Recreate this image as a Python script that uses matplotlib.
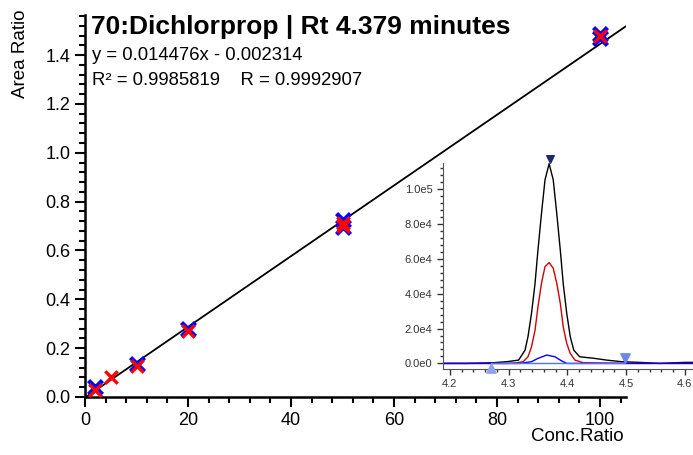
import matplotlib.pyplot as plt
import numpy as np
from matplotlib.ticker import MultipleLocator, FormatStrFormatter, FuncFormatter

plt.rcParams['font.family'] = ['Liberation Sans', 'DejaVu Sans']

# calibration points (conc ratio vs area ratio)
conc_blue = [2, 10, 20, 50, 50, 100, 100]
area_blue = [0.040, 0.135, 0.280, 0.725, 0.695, 1.485, 1.470]
conc_red = [2, 5, 10, 20, 50, 50, 100]
area_red = [0.028, 0.080, 0.128, 0.272, 0.712, 0.700, 1.478]
slope = 0.014476
intercept = -0.002314

# chromatogram traces (time in minutes, intensity)
t_black = [4.19, 4.23, 4.274, 4.297, 4.317, 4.328, 4.333, 4.339, 4.345, 4.350, 4.356,
           4.362, 4.369, 4.376, 4.382, 4.388, 4.393, 4.399, 4.405, 4.411, 4.421,
           4.444, 4.467, 4.492, 4.523, 4.557, 4.6, 4.62]
i_black = [0, 0, 400, 1000, 1900, 7600, 15300, 28700, 45800, 65100, 86000,
           105300, 114500, 105300, 86000, 65100, 45800, 28700, 15300, 7600, 3800,
           3000, 1900, 1000, 600, 0, 600, 600]
t_red = [4.19, 4.30, 4.313, 4.325, 4.333, 4.339, 4.345, 4.350, 4.356, 4.362, 4.369,
         4.376, 4.382, 4.388, 4.393, 4.399, 4.405, 4.413, 4.427, 4.5, 4.62]
i_red = [0, 0, 300, 1000, 3800, 9500, 19100, 32500, 46000, 55500, 57800,
         54600, 46000, 34500, 21000, 11500, 5700, 1900, 400, 0, 0]
t_blue = [4.19, 4.32, 4.339, 4.350, 4.365, 4.379, 4.390, 4.399, 4.62]
i_blue = [0, 0, 1000, 2900, 4800, 3800, 1500, 0, 0]

# peak markers
apex = (4.37, 117500)
start_mark = (4.27, -2900)
end_mark = (4.498, 2900)

fig = plt.figure(figsize=(6.93, 4.55), dpi=100)
ax = fig.add_axes([0.1227, 0.1275, 0.7803, 0.84])

x_line = np.array([0, 105])
ax.plot(x_line, slope * x_line + intercept, color='black', lw=1.3, zorder=2)
ax.scatter(conc_blue, area_blue, marker='x', s=100, color='blue', linewidths=3.2, zorder=3)
ax.scatter(conc_red, area_red, marker='x', s=80, color='red', linewidths=2.4, zorder=4)

ax.set_xlim(0, 105)
ax.set_ylim(0, 1.565)
ax.spines['top'].set_visible(False)
ax.spines['right'].set_visible(False)
ax.spines['left'].set_linewidth(1.8)
ax.spines['bottom'].set_linewidth(1.8)
ax.xaxis.set_major_locator(MultipleLocator(20))
ax.xaxis.set_minor_locator(MultipleLocator(4))
ax.yaxis.set_major_locator(MultipleLocator(0.2))
ax.yaxis.set_minor_locator(MultipleLocator(0.04))
ax.yaxis.set_major_formatter(FormatStrFormatter('%.1f'))
ax.tick_params(which='major', length=7, width=1.5, labelsize=13, direction='out')
ax.tick_params(which='minor', length=4, width=1.5, direction='out')

fig.text(0.131, 0.968, '70:Dichlorprop | Rt 4.379 minutes', fontsize=19,
         fontweight='bold', va='top', ha='left')
fig.text(0.133, 0.877, 'y = 0.014476x - 0.002314', fontsize=13.3, va='center')
fig.text(0.133, 0.822, 'R\u00b2 = 0.9985819    R = 0.9992907', fontsize=13.3, va='center')
fig.text(0.03, 0.98, 'Area Ratio', rotation=90, fontsize=13.5, ha='center', va='top')
fig.text(0.9, 0.04, 'Conc.Ratio', fontsize=13.5, ha='right', va='center')

# inset chromatogram
ins = fig.add_axes([0.639, 0.189, 0.361, 0.453])
ins.plot(t_black, i_black, color='black', lw=1)
ins.plot(t_red, i_red, color='#d00000', lw=1)
ins.plot(t_blue, i_blue, color='blue', lw=1)
ins.plot([start_mark[0], end_mark[0]], [0, 0], color='#5070ff', lw=1)
ins.scatter([apex[0]], [apex[1]], marker='v', s=30, color='#1a2a6c', zorder=5, clip_on=False)
ins.scatter([start_mark[0]], [start_mark[1]], marker='^', s=45, color='#8fa3ec', zorder=5, clip_on=False)
ins.scatter([end_mark[0]], [end_mark[1]], marker='v', s=45, color='#6a86ea', zorder=5, clip_on=False)
ins.set_xlim(4.188, 4.614)
ins.set_ylim(-3200, 115000)
ins.spines['top'].set_visible(False)
ins.spines['right'].set_visible(False)
ins.spines['left'].set_color('#555555')
ins.spines['bottom'].set_color('#555555')
ins.xaxis.set_major_locator(MultipleLocator(0.1))
ins.xaxis.set_minor_locator(MultipleLocator(0.02))
ins.yaxis.set_major_locator(MultipleLocator(20000))
ins.yaxis.set_minor_locator(MultipleLocator(4000))
ins.xaxis.set_major_formatter(FormatStrFormatter('%.1f'))
ins.yaxis.set_major_formatter(FuncFormatter(
    lambda v, p: '0.0e0' if v == 0 else '%.1fe%d' % (v / 10 ** int(np.floor(np.log10(abs(v)))),
                                                    int(np.floor(np.log10(abs(v)))))))
ins.tick_params(which='major', length=4, width=1, labelsize=8, colors='#333333')
ins.tick_params(which='minor', length=2.5, width=1, colors='#333333')
ins.patch.set_alpha(0)

plt.savefig('out.png', dpi=100)
plt.close()
